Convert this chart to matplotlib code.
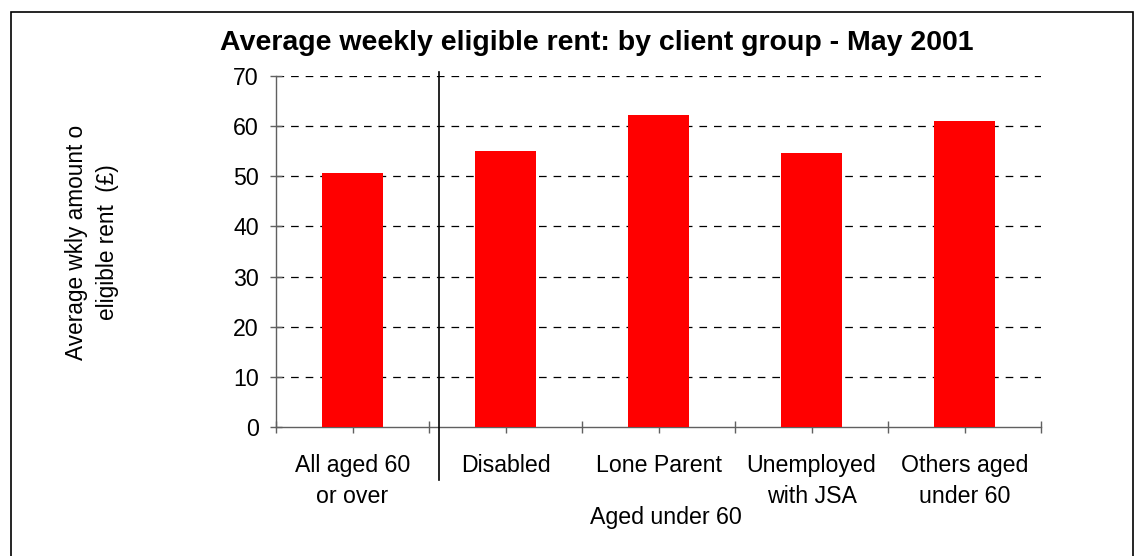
import matplotlib
matplotlib.use("Agg")
import matplotlib.pyplot as plt
from matplotlib.patches import Rectangle
from matplotlib.lines import Line2D

plt.rcParams["font.family"] = ["Liberation Sans", "DejaVu Sans"]
plt.rcParams["lines.scale_dashes"] = False

categories = ["All aged 60\nor over", "Disabled", "Lone Parent",
              "Unemployed\nwith JSA", "Others aged\nunder 60"]
rent = [50.6, 55.1, 62.2, 54.7, 61.0]
yticks = [0, 10, 20, 30, 40, 50, 60, 70]

title = "Average weekly eligible rent: by client group - May 2001"
ylabel = "Average wkly amount o\neligible rent  (\u00a3)"
group_label = "Aged under 60"

W, H = 1144, 556
fig = plt.figure(figsize=(W / 100, H / 100), dpi=100)
ax = fig.add_axes([276 / W, 1 - 427 / H, (1041 - 276) / W, (427 - 76) / H])

x = list(range(len(categories)))
ax.bar(x, rent, width=0.405, color="#ff0000", zorder=3)

ax.set_xlim(-0.5, len(categories) - 0.5)
ax.set_ylim(0, 70)
ax.set_yticks(yticks)
ax.set_yticklabels([str(v) for v in yticks], fontsize=16.7)
for v in yticks[1:]:
    ax.axhline(v, color="black", lw=0.9, dashes=(5.5, 5), zorder=1)

# ticks at category boundaries and centres
ax.set_xticks([i - 0.5 for i in range(len(categories) + 1)])
ax.set_xticks(x, minor=True)
ax.set_xticklabels([])
ax.tick_params(axis="x", which="both", direction="inout", length=9,
               color="#606060", width=1)
ax.tick_params(axis="y", direction="inout", length=9, color="#606060",
               width=1, pad=8)

for s in ("top", "right"):
    ax.spines[s].set_visible(False)
for s in ("left", "bottom"):
    ax.spines[s].set_color("#606060")
    ax.spines[s].set_linewidth(1)

for i, lab in enumerate(categories):
    ax.text(i, -5.4, lab, ha="center", va="top", fontsize=16.7,
            linespacing=1.45)
ax.text(2.05, -18.0, group_label, ha="center", va="center", fontsize=16.7)

# separator between the two groups
sep = Line2D([439 / W, 439 / W], [1 - 72 / H, 1 - 480 / H],
             transform=fig.transFigure, color="black", lw=1.2)
fig.add_artist(sep)

fig.text(597 / W, 1 - 43 / H, title, ha="center", va="center",
         fontsize=20.5, fontweight="bold")
fig.text(92 / W, 1 - 242 / H, ylabel, ha="center", va="center",
         rotation=90, fontsize=16.3, linespacing=1.45)

border = Rectangle((11 / W, -0.05), (1133 - 11) / W, 1 - 12 / H + 0.05,
                   transform=fig.transFigure, fill=False, ec="black", lw=1.2)
fig.add_artist(border)

fig.savefig("out.png", dpi=100)
